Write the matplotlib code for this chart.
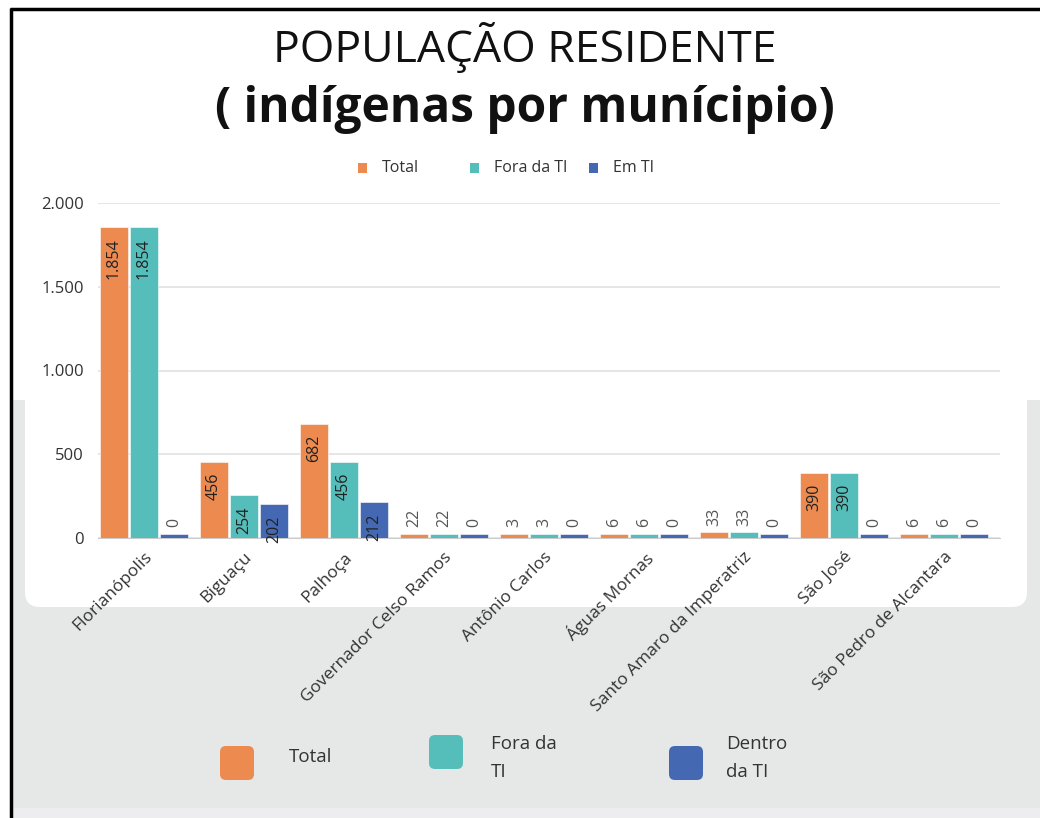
import matplotlib
matplotlib.use("Agg")
import matplotlib.pyplot as plt
from matplotlib.patches import FancyBboxPatch, Rectangle
import numpy as np

# data
municipios = ["Florianópolis", "Biguaçu", "Palhoça", "Governador Celso Ramos",
              "Antônio Carlos", "Águas Mornas", "Santo Amaro da Imperatriz",
              "São José", "São Pedro de Alcantara"]
total = [1854, 456, 682, 22, 3, 6, 33, 390, 6]
fora_ti = [1854, 254, 456, 22, 3, 6, 33, 390, 6]
em_ti = [0, 202, 212, 0, 0, 0, 0, 0, 0]

c_total = "#EC8A4F"
c_fora = "#55BEBA"
c_em = "#4568B3"
grey_bg = "#E6E7E7"
font = "Open Sans"

W, H = 1040, 818
fig = plt.figure(figsize=(W / 100, H / 100), dpi=100)
fig.patch.set_facecolor("white")

# background drawn in pixel coordinates
bg = fig.add_axes([0, 0, 1, 1], zorder=0)
bg.set_xlim(0, W)
bg.set_ylim(H, 0)
bg.axis("off")
bg.add_patch(Rectangle((11, 400), W, 420, color=grey_bg, lw=0))
bg.add_patch(Rectangle((11, 808), W, 20, color="#EDEDF0", lw=0))
bg.add_patch(FancyBboxPatch((40, 380), 972, 212, boxstyle="round,pad=15",
                            fc="white", ec="none"))
bg.plot([10, W], [8.5, 8.5], color="black", lw=2.5, solid_capstyle="butt")
bg.plot([10.5, 10.5], [8, H], color="black", lw=2.5, solid_capstyle="butt")

# bottom legend
leg_items = [("Total", c_total, 237, 763, 289, 757),
             ("Fora da\nTI", c_fora, 446, 752, 491, 758),
             ("Dentro\nda TI", c_em, 686, 763, 726, 758)]
for lab, col, cx, cy, tx, ty in leg_items:
    bg.add_patch(FancyBboxPatch((cx - 11, cy - 11), 22, 22, boxstyle="round,pad=6",
                                fc=col, ec="none"))
    bg.text(tx, ty, lab, fontsize=13.5, color="#333333", va="center", ha="left",
            linespacing=1.75, family=font)

# titles
fig.text(0.505, 0.942, "POPULAÇÃO RESIDENTE", ha="center", va="center",
         fontsize=32, family=font, color="#111111")
fig.text(0.505, 0.866, "( indígenas por munícipio)", ha="center", va="center",
         fontsize=34.5, family=font, weight="bold", color="#111111")

# top legend
for lab, col, sx in [("Total", c_total, 362), ("Fora da TI", c_fora, 474), ("Em TI", c_em, 593)]:
    bg.add_patch(Rectangle((sx - 4, 163), 9, 10, color=col, lw=0))
    bg.text(sx + 20, 168, lab, fontsize=11.5, va="center", ha="left",
            color="#333333", family=font)

# main chart
ax = fig.add_axes([98 / W, 1 - 538 / H, 902 / W, 335 / H], zorder=2)
ax.patch.set_alpha(0)
x = np.arange(len(municipios))
bw = 0.28
series = [(total, c_total, -0.3), (fora_ti, c_fora, 0.0), (em_ti, c_em, 0.3)]
for vals, col, off in series:
    vals = np.array(vals)
    shown = np.maximum(vals, 25)
    ax.bar(x + off, shown, width=bw, color=col, edgecolor="white", linewidth=0.4, zorder=3)
    for xi, v in zip(x + off, vals):
        if v >= 150:
            ax.annotate(f"{v:,}".replace(",", "."), (xi, v), xytext=(0, -8),
                        textcoords="offset points", rotation=90, ha="center",
                        va="top", fontsize=11.5, color="#222222", zorder=4, family=font)
        else:
            ax.annotate(str(v), (xi, max(v, 25)), xytext=(0, 5),
                        textcoords="offset points", rotation=90, ha="center",
                        va="bottom", fontsize=11.5, color="#555555", zorder=4, family=font)

ax.set_xlim(-0.46, 8.56)
ax.set_ylim(0, 2000)
ax.set_yticks([0, 500, 1000, 1500, 2000])
ax.set_yticklabels(["0", "500", "1.000", "1.500", "2.000"], family=font)
ax.yaxis.grid(True, color="#E2E2E2", lw=1.2, zorder=0)
ax.set_axisbelow(True)
for s in ["top", "right", "left"]:
    ax.spines[s].set_visible(False)
ax.spines["bottom"].set_color("#CCCCCC")
ax.tick_params(axis="y", length=0, labelsize=12, labelcolor="#333333", pad=10)
ax.tick_params(axis="x", length=0, pad=8)
ax.set_xticks(x)
ax.set_xticklabels(municipios, rotation=45, ha="right", rotation_mode="anchor",
                   fontsize=12.5, color="#333333", family=font)

fig.savefig("out.png", dpi=100)
